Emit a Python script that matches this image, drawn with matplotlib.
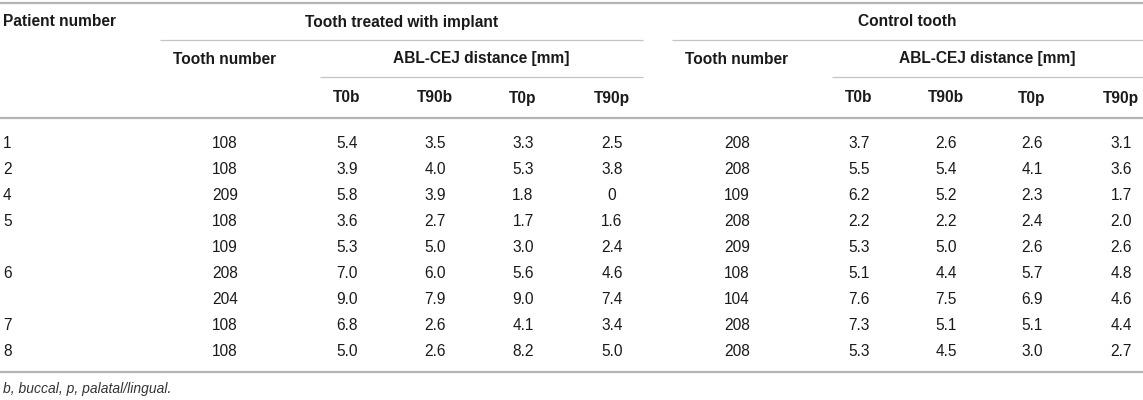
import matplotlib
matplotlib.use('Agg')
import matplotlib.pyplot as plt

plt.rcParams['font.family'] = ['Liberation Sans', 'DejaVu Sans']

# table data
patients = ['1', '2', '4', '5', '', '6', '', '7', '8']
impl_tooth = [108, 108, 209, 108, 109, 208, 204, 108, 108]
impl_t0b = [5.4, 3.9, 5.8, 3.6, 5.3, 7.0, 9.0, 6.8, 5.0]
impl_t90b = [3.5, 4.0, 3.9, 2.7, 5.0, 6.0, 7.9, 2.6, 2.6]
impl_t0p = [3.3, 5.3, 1.8, 1.7, 3.0, 5.6, 9.0, 4.1, 8.2]
impl_t90p = [2.5, 3.8, 0, 1.6, 2.4, 4.6, 7.4, 3.4, 5.0]
ctrl_tooth = [208, 208, 109, 208, 209, 108, 104, 208, 208]
ctrl_t0b = [3.7, 5.5, 6.2, 2.2, 5.3, 5.1, 7.6, 7.3, 5.3]
ctrl_t90b = [2.6, 5.4, 5.2, 2.2, 5.0, 4.4, 7.5, 5.1, 4.5]
ctrl_t0p = [2.6, 4.1, 2.3, 2.4, 2.6, 5.7, 6.9, 5.1, 3.0]
ctrl_t90p = [3.1, 3.6, 1.7, 2.0, 2.6, 4.8, 4.6, 4.4, 2.7]
measures = ['T0b', 'T90b', 'T0p', 'T90p']
groups = ['Tooth treated with implant', 'Control tooth']
footnote = 'b, buccal, p, palatal/lingual.'

# layout (pixels)
W, H = 1143, 400
tooth_x = [225, 737]
meas_x = [[347, 435, 523, 612], [859, 946, 1032, 1121]]
group_span = [(160, 643), (672, 1143)]
abl_span = [(320, 643), (832, 1143)]
row0, row_h = 143, 26
txt = '#1a1a1a'
fs = 11.2


def fmt(v):
    return '0' if v == 0 else f'{v:.1f}'


fig = plt.figure(figsize=(W / 100, H / 100), dpi=100)
ax = fig.add_axes([0, 0, 1, 1])
ax.set_xlim(0, W)
ax.set_ylim(H, 0)
ax.axis('off')

# rules
for y in (3, 118, 372):
    ax.plot([0, W], [y, y], color='#b4b4b4', lw=1.6, solid_capstyle='butt')
for (a, b) in group_span:
    ax.plot([a, b], [40, 40], color='#c4c4c4', lw=0.9, solid_capstyle='butt')
for (a, b) in abl_span:
    ax.plot([a, b], [77, 77], color='#c4c4c4', lw=0.9, solid_capstyle='butt')

# headers
ax.text(3, 22, 'Patient number', ha='left', va='center', fontsize=fs,
        fontweight='bold', color=txt)
for g in range(2):
    a, b = group_span[g]
    ax.text((a + b) / 2, 22, groups[g], ha='center', va='center', fontsize=fs,
            fontweight='bold', color=txt)
    ax.text(tooth_x[g], 59, 'Tooth number', ha='center', va='center',
            fontsize=fs, fontweight='bold', color=txt)
    a, b = abl_span[g]
    ax.text((a + b) / 2, 59, 'ABL-CEJ distance [mm]', ha='center',
            va='center', fontsize=fs, fontweight='bold', color=txt)
    for x, m in zip(meas_x[g], measures):
        ax.text(x, 98, m, ha='center', va='center', fontsize=fs,
                fontweight='bold', color=txt)

# body
impl_vals = [impl_t0b, impl_t90b, impl_t0p, impl_t90p]
ctrl_vals = [ctrl_t0b, ctrl_t90b, ctrl_t0p, ctrl_t90p]
for i in range(len(patients)):
    y = row0 + i * row_h
    ax.text(3, y, patients[i], ha='left', va='center', fontsize=fs, color=txt)
    for g, (teeth, vals) in enumerate([(impl_tooth, impl_vals),
                                       (ctrl_tooth, ctrl_vals)]):
        ax.text(tooth_x[g], y, str(teeth[i]), ha='center', va='center',
                fontsize=fs, color=txt)
        for x, col in zip(meas_x[g], vals):
            ax.text(x, y, fmt(col[i]), ha='center', va='center',
                    fontsize=fs, color=txt)

ax.text(3, 389, footnote, ha='left', va='center', fontsize=10,
        style='italic', color='#333333')

fig.savefig('out.png', dpi=100)
